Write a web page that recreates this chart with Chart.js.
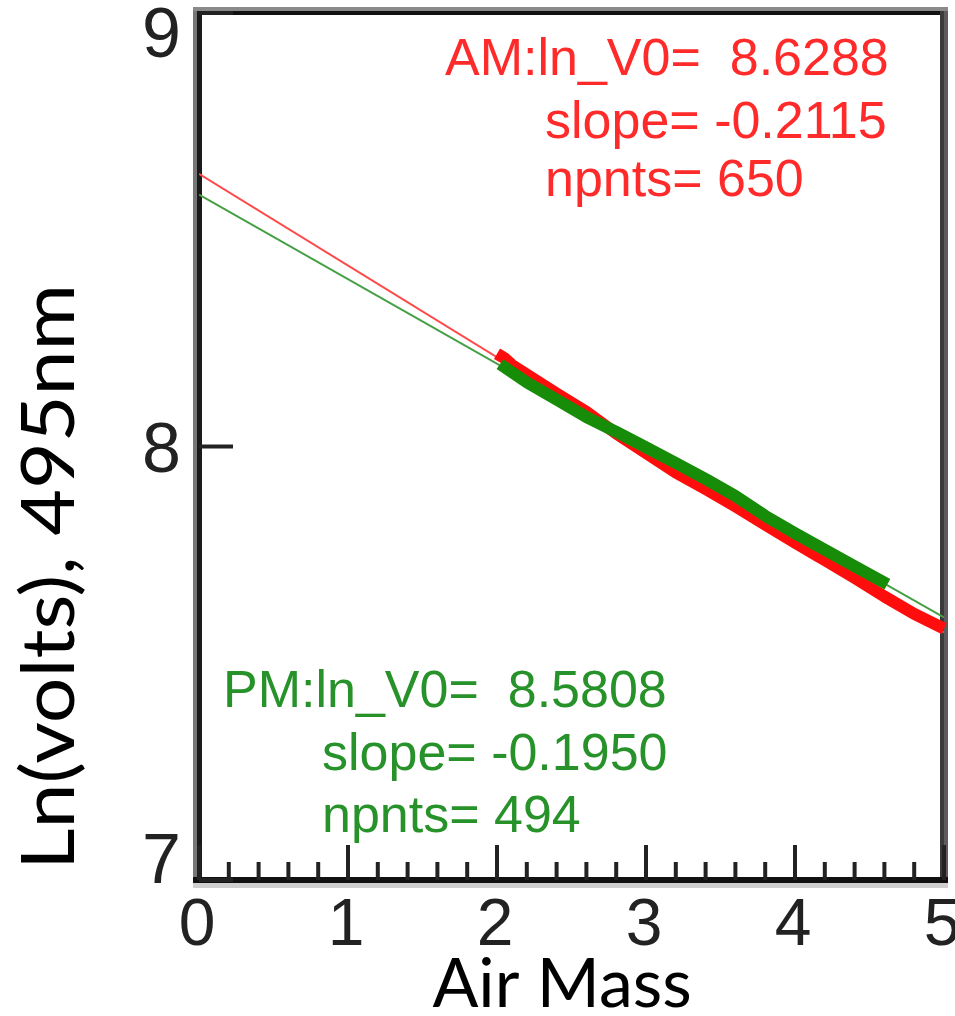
<!DOCTYPE html>
<html>
<head>
<meta charset="utf-8">
<script src="https://cdn.jsdelivr.net/npm/chart.js@4"></script>
<style>
  html, body { margin: 0; padding: 0; background: #fff; }
  #wrap { width: 955px; height: 1016px; }
</style>
</head>
<body>
<div id="wrap"><canvas id="chart" width="955" height="1016"></canvas></div>
<script>
// tick labels
const xTickValues = [0, 1, 2, 3, 4, 5];
const xTickLabels = ["0", "1", "2", "3", "4", "5"];
const xMinorValues = [0.2, 0.4, 0.6, 0.8, 1.2, 1.4, 1.6, 1.8, 2.2, 2.4, 2.6, 2.8,
                      3.2, 3.4, 3.6, 3.8, 4.2, 4.4, 4.6, 4.8];
const yTickValues = [7, 8, 9];
const yTickLabels = ["7", "8", "9"];

const amAirMass = [2.00, 2.05, 2.10, 2.20, 2.40, 2.60, 2.80, 3.00, 3.20, 3.40,
                   3.60, 3.80, 4.00, 4.15, 4.20, 4.40, 4.60, 4.80, 5.00, 5.10];
const amLnV = [8.214, 8.204, 8.188, 8.166, 8.122, 8.080, 8.030, 7.985, 7.940, 7.902,
               7.862, 7.820, 7.778, 7.748, 7.738, 7.697, 7.654, 7.614, 7.580, 7.560];

// PM (afternoon) measurements
const pmAirMass = [2.02, 2.20, 2.40, 2.60, 2.80, 3.00, 3.20, 3.40, 3.60, 3.80,
                   4.00, 4.20, 4.40, 4.62];
const pmLnV = [8.190, 8.148, 8.108, 8.068, 8.034, 7.998, 7.962, 7.925, 7.886, 7.840,
               7.800, 7.762, 7.724, 7.682];

// Langley fit lines (end points)
const amFitX = [0, 5];
const amFitY = [8.6288, 7.5713];
const pmFitX = [0, 5];
const pmFitY = [8.5808, 7.6058];

const amLabel = ["AM:ln_V0=  8.6288", "slope= -0.2115", "npnts= 650"];
const pmLabel = ["PM:ln_V0=  8.5808", "slope= -0.1950", "npnts= 494"];
const xTitle = "Air Mass";
const yTitle = "Ln(volts), 495nm";

const RED = "#ff0d0d";
const GREEN = "#178c08";

function pts(xs, ys) {
    return xs.map((x, i) => ({ x: x, y: ys[i] }));
}

const frame = {
    id: "frame",
    beforeDatasetsDraw(chart) {
        const ctx = chart.ctx;
        const a = chart.chartArea;
        const xs = chart.scales.x;
        const ys = chart.scales.y;
        ctx.save();
        // top + right borders
        ctx.fillStyle = "#8a8a8a";
        ctx.fillRect(a.left - 6, a.top - 6, a.right - a.left + 10, 4);
        ctx.fillStyle = "#111";
        ctx.fillRect(a.left - 2, a.top - 2, a.right - a.left + 6, 4);
        ctx.fillStyle = "#3a3a3a";
        ctx.fillRect(a.right - 4, a.top - 2, 4, a.bottom - a.top + 4);
        ctx.fillStyle = "#5c5c5c";
        ctx.fillRect(a.right, a.top - 2, 4, a.bottom - a.top + 4);
        // left axis
        ctx.fillStyle = "#777";
        ctx.fillRect(a.left - 6, a.top - 2, 4, a.bottom - a.top + 6);
        ctx.fillStyle = "#1a1a1a";
        ctx.fillRect(a.left - 2, a.top - 2, 5, a.bottom - a.top + 6);
        // bottom axis
        ctx.fillStyle = "#cfcfcf";
        ctx.fillRect(a.left - 6, a.bottom + 3, a.right - a.left + 10, 5);
        ctx.fillStyle = "#111";
        ctx.fillRect(a.left - 6, a.bottom - 3, a.right - a.left + 10, 6);

        // x ticks, pointing inward
        ctx.fillStyle = "#222";
        xTickValues.forEach(v => {
            const px = xs.getPixelForValue(v);
            ctx.fillRect(px - 2, a.bottom - 35, 4, 35);
        });
        xMinorValues.forEach(v => {
            const px = xs.getPixelForValue(v);
            ctx.fillRect(px - 2, a.bottom - 18, 4, 18);
        });
        // y ticks
        yTickValues.forEach(v => {
            const py = ys.getPixelForValue(v);
            ctx.fillRect(a.left, py - 2, 34, 4);
        });
        ctx.restore();
    },
    afterDraw(chart) {
        const ctx = chart.ctx;
        const a = chart.chartArea;
        const xs = chart.scales.x;
        const ys = chart.scales.y;
        ctx.save();
        ctx.fillStyle = "#222";

        // x tick labels
        ctx.font = '66px "Liberation Sans", Arial, sans-serif';
        ctx.textAlign = "center";
        ctx.textBaseline = "alphabetic";
        xTickValues.forEach((v, i) => {
            ctx.fillText(xTickLabels[i], xs.getPixelForValue(v) - 2, a.bottom + 65);
        });

        // y tick labels, kept inside the axis range
        const fs = 70, h = 0.716 * fs;
        ctx.font = fs + 'px "Liberation Sans", Arial, sans-serif';
        ctx.textAlign = "right";
        yTickValues.forEach((v, i) => {
            let by = ys.getPixelForValue(v) + h / 2;
            by = Math.max(by, a.top + h - 6);
            by = Math.min(by, a.bottom + 3);
            ctx.fillText(yTickLabels[i], a.left - 18, by);
        });

        // axis titles
        ctx.fillStyle = "#000";
        ctx.font = '68px Lato, "Noto Sans", sans-serif';
        ctx.textAlign = "center";
        ctx.fillText(xTitle, 562, 1007);

        ctx.save();
        ctx.font = '74px Lato, "Noto Sans", sans-serif';
        ctx.translate(74, 577);
        ctx.rotate(-Math.PI / 2);
        const w = ctx.measureText(yTitle).width;
        ctx.scale(586 / w, 1);
        ctx.fillText(yTitle, 0, 0);
        ctx.restore();

        // fit annotations
        ctx.font = '52px "Liberation Sans", Arial, sans-serif';
        ctx.textAlign = "left";
        ctx.fillStyle = "#ff2a2a";
        ctx.fillText(amLabel[0], a.left + 246, a.top + 62);
        ctx.fillText(amLabel[1], a.left + 346, a.top + 125);
        ctx.fillText(amLabel[2], a.left + 346, a.top + 183);
        ctx.fillStyle = "#27922a";
        ctx.fillText(pmLabel[0], a.left + 24, a.top + 694);
        ctx.fillText(pmLabel[1], a.left + 123, a.top + 757);
        ctx.fillText(pmLabel[2], a.left + 123, a.top + 819);
        ctx.restore();
    }
};

new Chart(document.getElementById("chart"), {
    type: "scatter",
    data: {
        datasets: [
            {
                label: "PM",
                data: pts(pmAirMass, pmLnV),
                showLine: true,
                borderColor: GREEN,
                backgroundColor: GREEN,
                borderWidth: 12,
                borderCapStyle: "butt",
                borderJoinStyle: "round",
                pointRadius: 0,
                tension: 0
            },
            {
                label: "AM",
                data: pts(amAirMass, amLnV),
                showLine: true,
                borderColor: RED,
                backgroundColor: RED,
                borderWidth: 12,
                borderCapStyle: "butt",
                borderJoinStyle: "round",
                pointRadius: 0,
                tension: 0,
                clip: false
            },
            {
                label: "PM fit",
                data: pts(pmFitX, pmFitY),
                showLine: true,
                borderColor: "#45a045",
                borderWidth: 2,
                pointRadius: 0
            },
            {
                label: "AM fit",
                data: pts(amFitX, amFitY),
                showLine: true,
                borderColor: "#ff4a4a",
                borderWidth: 2,
                pointRadius: 0
            }
        ]
    },
    options: {
        responsive: false,
        animation: false,
        events: [],
        layout: { padding: { top: 13, right: 11, left: 0, bottom: 0 } },
        plugins: {
            legend: { display: false },
            tooltip: { enabled: false }
        },
        scales: {
            x: {
                type: "linear",
                min: 0,
                max: 5,
                grid: { display: false },
                border: { display: false },
                ticks: { display: false },
                afterFit(scale) { scale.height = 136; }
            },
            y: {
                type: "linear",
                min: 7,
                max: 9,
                grid: { display: false },
                border: { display: false },
                ticks: { display: false },
                afterFit(scale) { scale.width = 199; }
            }
        }
    },
    plugins: [frame]
});
</script>
</body>
</html>
